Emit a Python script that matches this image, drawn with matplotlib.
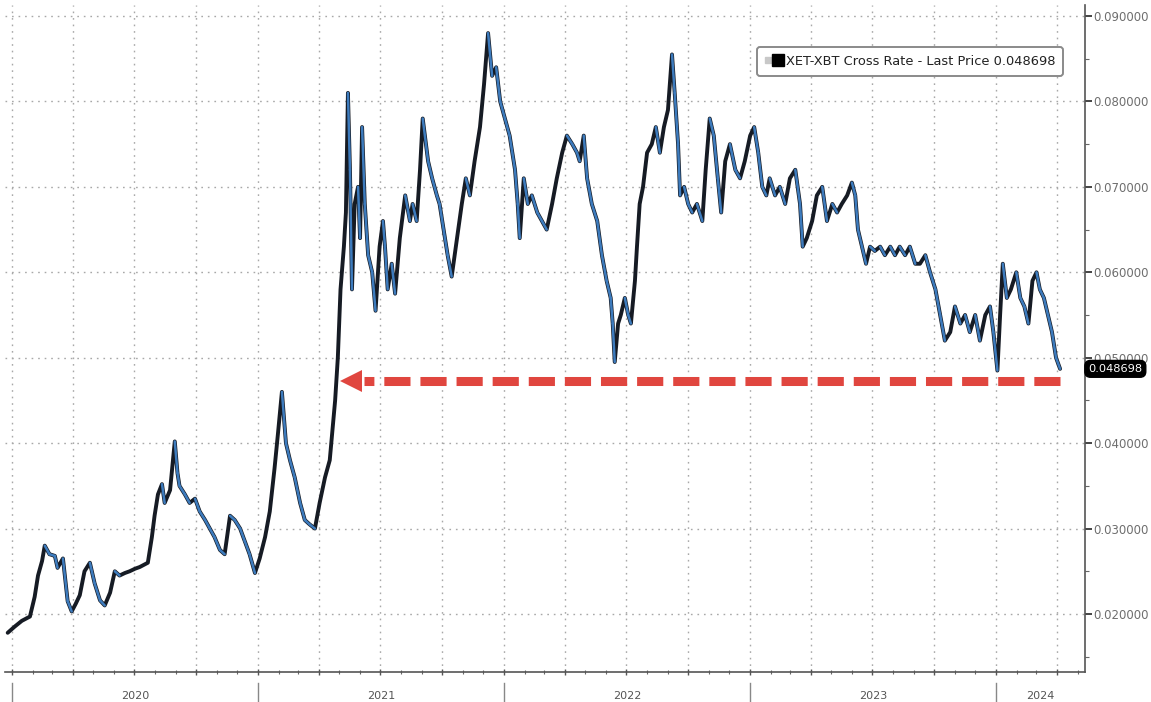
import matplotlib
matplotlib.use("Agg")
import matplotlib.pyplot as plt
import matplotlib.dates as mdates
import matplotlib.ticker as mticker
from matplotlib.collections import LineCollection
from matplotlib.lines import Line2D
from matplotlib.legend_handler import HandlerTuple
from matplotlib.transforms import blended_transform_factory
import numpy as np
import pandas as pd

# XET-XBT cross rate (ETH priced in BTC)
dates = [
    "2019-12-26", "2020-01-05", "2020-01-16", "2020-01-28", "2020-02-04", "2020-02-09",
    "2020-02-15", "2020-02-19", "2020-02-26", "2020-03-05", "2020-03-09", "2020-03-17",
    "2020-03-24", "2020-03-30", "2020-04-05", "2020-04-11", "2020-04-18", "2020-04-26",
    "2020-05-03", "2020-05-11", "2020-05-18", "2020-05-26", "2020-06-02", "2020-06-09",
    "2020-06-17", "2020-06-24", "2020-07-02", "2020-07-09", "2020-07-16", "2020-07-21",
    "2020-07-27", "2020-07-31", "2020-08-05", "2020-08-11", "2020-08-15", "2020-08-23",
    "2020-08-30", "2020-09-03", "2020-09-06", "2020-09-14", "2020-09-21", "2020-09-29",
    "2020-10-06", "2020-10-14", "2020-10-21", "2020-10-28", "2020-11-05", "2020-11-12",
    "2020-11-20", "2020-11-27", "2020-12-05", "2020-12-12", "2020-12-19", "2020-12-27",
    "2021-01-03", "2021-01-11", "2021-01-18", "2021-01-25", "2021-01-30", "2021-02-05",
    "2021-02-11", "2021-02-17", "2021-02-24", "2021-03-04", "2021-03-11", "2021-03-18",
    "2021-03-26", "2021-04-02", "2021-04-10", "2021-04-17", "2021-04-25", "2021-04-29",
    "2021-05-03", "2021-05-08", "2021-05-11", "2021-05-14", "2021-05-17", "2021-05-20",
    "2021-05-24", "2021-05-29", "2021-06-01", "2021-06-04", "2021-06-08", "2021-06-13",
    "2021-06-19", "2021-06-24", "2021-06-30", "2021-07-05", "2021-07-08", "2021-07-12",
    "2021-07-18", "2021-07-23", "2021-07-30", "2021-08-07", "2021-08-14", "2021-08-18",
    "2021-08-24", "2021-08-29", "2021-09-02", "2021-09-10", "2021-09-16", "2021-09-23",
    "2021-09-27", "2021-10-05", "2021-10-09", "2021-10-15", "2021-10-23", "2021-10-30",
    "2021-11-05", "2021-11-11", "2021-11-18", "2021-11-26", "2021-12-02", "2021-12-08",
    "2021-12-14", "2021-12-20", "2021-12-26", "2022-01-02", "2022-01-09", "2022-01-17",
    "2022-01-21", "2022-01-24", "2022-01-30", "2022-02-05", "2022-02-11", "2022-02-19",
    "2022-02-26", "2022-03-05", "2022-03-13", "2022-03-20", "2022-03-28", "2022-04-04",
    "2022-04-12", "2022-04-19", "2022-04-23", "2022-04-29", "2022-05-04", "2022-05-11",
    "2022-05-19", "2022-05-26", "2022-06-02", "2022-06-08", "2022-06-11", "2022-06-14",
    "2022-06-19", "2022-06-23", "2022-06-29", "2022-07-04", "2022-07-08", "2022-07-14",
    "2022-07-17", "2022-07-21", "2022-07-26", "2022-08-01", "2022-08-08", "2022-08-14",
    "2022-08-20", "2022-08-26", "2022-09-01", "2022-09-07", "2022-09-11", "2022-09-16",
    "2022-09-19", "2022-09-25", "2022-10-01", "2022-10-07", "2022-10-14", "2022-10-22",
    "2022-10-27", "2022-11-02", "2022-11-08", "2022-11-14", "2022-11-19", "2022-11-25",
    "2022-12-02", "2022-12-10", "2022-12-17", "2022-12-24", "2023-01-01", "2023-01-07",
    "2023-01-13", "2023-01-19", "2023-01-25", "2023-01-30", "2023-02-07", "2023-02-14",
    "2023-02-22", "2023-03-01", "2023-03-09", "2023-03-16", "2023-03-20", "2023-03-26",
    "2023-04-03", "2023-04-10", "2023-04-18", "2023-04-25", "2023-05-03", "2023-05-10",
    "2023-05-17", "2023-05-25", "2023-06-01", "2023-06-06", "2023-06-10", "2023-06-16",
    "2023-06-22", "2023-06-28", "2023-07-05", "2023-07-13", "2023-07-20", "2023-07-28",
    "2023-08-04", "2023-08-11", "2023-08-19", "2023-08-26", "2023-09-03", "2023-09-10",
    "2023-09-18", "2023-09-25", "2023-10-03", "2023-10-10", "2023-10-17", "2023-10-25",
    "2023-11-01", "2023-11-09", "2023-11-16", "2023-11-23", "2023-12-01", "2023-12-08",
    "2023-12-16", "2023-12-23", "2023-12-28", "2024-01-03", "2024-01-07", "2024-01-11",
    "2024-01-17", "2024-01-23", "2024-01-31", "2024-02-06", "2024-02-12", "2024-02-18",
    "2024-02-24", "2024-03-01", "2024-03-06", "2024-03-12", "2024-03-18", "2024-03-24",
    "2024-03-30", "2024-04-05",
]
prices = [
    0.0178, 0.0185, 0.0192, 0.0197, 0.0220, 0.0245,
    0.0262, 0.0280, 0.0270, 0.0268, 0.0254, 0.0265,
    0.0215, 0.0203, 0.0212, 0.0222, 0.0250, 0.0260,
    0.0236, 0.0216, 0.0210, 0.0225, 0.0250, 0.0245,
    0.0248, 0.0250, 0.0253, 0.0255, 0.0258, 0.0260,
    0.0290, 0.0315, 0.0340, 0.0352, 0.0330, 0.0345,
    0.0402, 0.0365, 0.0350, 0.0340, 0.0330, 0.0335,
    0.0320, 0.0310, 0.0300, 0.0290, 0.0275, 0.0270,
    0.0315, 0.0310, 0.0300, 0.0285, 0.0270, 0.0248,
    0.0265, 0.0290, 0.0320, 0.0370, 0.0410, 0.0460,
    0.0400, 0.0380, 0.0360, 0.0330, 0.0310, 0.0305,
    0.0300, 0.0330, 0.0360, 0.0380, 0.0450, 0.0500,
    0.0580, 0.0630, 0.0670, 0.0810, 0.0720, 0.0580,
    0.0680, 0.0700, 0.0640, 0.0770, 0.0680, 0.0620,
    0.0600, 0.0555, 0.0630, 0.0660, 0.0630, 0.0580,
    0.0610, 0.0575, 0.0640, 0.0690, 0.0660, 0.0680,
    0.0660, 0.0720, 0.0780, 0.0730, 0.0710, 0.0690,
    0.0680, 0.0640, 0.0620, 0.0595, 0.0640, 0.0680,
    0.0710, 0.0690, 0.0730, 0.0770, 0.0820, 0.0880,
    0.0830, 0.0840, 0.0800, 0.0780, 0.0760, 0.0720,
    0.0680, 0.0640, 0.0710, 0.0680, 0.0690, 0.0670,
    0.0660, 0.0650, 0.0680, 0.0710, 0.0740, 0.0760,
    0.0750, 0.0740, 0.0730, 0.0760, 0.0710, 0.0680,
    0.0660, 0.0620, 0.0590, 0.0570, 0.0540, 0.0495,
    0.0540, 0.0550, 0.0570, 0.0550, 0.0540, 0.0590,
    0.0630, 0.0680, 0.0700, 0.0740, 0.0750, 0.0770,
    0.0740, 0.0770, 0.0790, 0.0855, 0.0810, 0.0750,
    0.0690, 0.0700, 0.0680, 0.0670, 0.0680, 0.0660,
    0.0720, 0.0780, 0.0760, 0.0710, 0.0670, 0.0730,
    0.0750, 0.0720, 0.0710, 0.0730, 0.0760, 0.0770,
    0.0740, 0.0700, 0.0690, 0.0710, 0.0690, 0.0700,
    0.0680, 0.0710, 0.0720, 0.0680, 0.0630, 0.0640,
    0.0660, 0.0690, 0.0700, 0.0660, 0.0680, 0.0670,
    0.0680, 0.0690, 0.0705, 0.0690, 0.0650, 0.0630,
    0.0610, 0.0630, 0.0625, 0.0630, 0.0620, 0.0630,
    0.0620, 0.0630, 0.0620, 0.0630, 0.0610, 0.0610,
    0.0620, 0.0600, 0.0580, 0.0550, 0.0520, 0.0530,
    0.0560, 0.0540, 0.0550, 0.0530, 0.0550, 0.0520,
    0.0550, 0.0560, 0.0530, 0.0485, 0.0550, 0.0610,
    0.0570, 0.0580, 0.0600, 0.0570, 0.0560, 0.0540,
    0.0590, 0.0600, 0.0580, 0.0570, 0.0550, 0.0530,
    0.0500, 0.048698,
]

last_price = 0.048698
arrow_level = 0.0473
arrow_from = "2024-04-05"
arrow_to = "2021-05-10"
years = [2020, 2021, 2022, 2023, 2024]
y_ticks = [0.02, 0.03, 0.04, 0.05, 0.06, 0.07, 0.08, 0.09]
legend_label = "XET-XBT Cross Rate - Last Price 0.048698"

x = pd.to_datetime(dates)
y = np.array(prices)

W, H = 1151, 702
fig = plt.figure(figsize=(W / 100, H / 100), dpi=100)
fig.patch.set_facecolor("white")
ax = fig.add_axes([5 / W, (H - 672) / H, 1080 / W, 667 / H])
ax.set_facecolor("white")

x_lo, x_hi = pd.Timestamp("2019-12-22"), pd.Timestamp("2024-05-12")
ax.set_xlim(x_lo, x_hi)
ax.set_ylim(0.01321, 0.09129)

# price line: dark base, falling legs overlaid in blue
xn = mdates.date2num(x)
pts = np.column_stack([xn, y])
segs = np.stack([pts[:-1], pts[1:]], axis=1)
ax.plot(x, y, color="#161b24", lw=2.8, solid_joinstyle="round",
        solid_capstyle="round", zorder=3)
down = np.diff(y) < 0
lc = LineCollection(segs[down], colors="#3d7bbd", linewidths=1.8,
                    capstyle="round", joinstyle="round", zorder=3.5)
ax.add_collection(lc)

# grid
ax.grid(which="major", axis="both", color="#a8a8a8", linestyle=(0, (1.2, 3.5)),
        linewidth=1.0, zorder=0)

# x axis: quarterly major ticks (gridlines), monthly minor ticks
ax.xaxis.set_major_locator(mdates.MonthLocator(bymonth=[1, 4, 7, 10]))
ax.xaxis.set_minor_locator(mdates.MonthLocator())
ax.xaxis.set_major_formatter(mticker.NullFormatter())
ax.xaxis.set_minor_formatter(mticker.NullFormatter())
ax.tick_params(axis="x", which="major", direction="inout", length=5, width=1,
               color="#555555")
ax.tick_params(axis="x", which="minor", direction="inout", length=3, width=0.8,
               color="#666666")

# y axis on the right
ax.yaxis.tick_right()
ax.set_yticks(y_ticks)
ax.yaxis.set_minor_locator(mticker.MultipleLocator(0.005))
ax.yaxis.set_major_formatter(mticker.FormatStrFormatter("%.6f"))
ax.tick_params(axis="y", which="major", direction="out", length=5, width=1.4,
               color="#444444", labelsize=8.5, labelcolor="#6e6e6e", pad=1)
ax.tick_params(axis="y", which="minor", direction="out", length=3, width=0.8,
               color="#666666")

for side in ("left", "top"):
    ax.spines[side].set_visible(False)
for side in ("right", "bottom"):
    ax.spines[side].set_color("#555555")
    ax.spines[side].set_linewidth(1.2)

# year labels centred on the visible part of each year, with separators
trans = blended_transform_factory(ax.transData, ax.transAxes)
for yr in years:
    start = max(pd.Timestamp(f"{yr}-01-01"), x_lo)
    end = min(pd.Timestamp(f"{yr + 1}-01-01"), x_hi)
    mid = start + (end - start) / 2
    ax.text(mid, -0.036, str(yr), transform=trans, ha="center", va="center",
            fontsize=8, color="#555555")
    sep = pd.Timestamp(f"{yr}-01-01")
    if x_lo <= sep <= x_hi:
        ax.plot([sep, sep], [-0.017, -0.045], transform=trans, color="#888888",
                lw=1.0, clip_on=False)

# red dashed arrow marking the current level
arrow_tip = pd.Timestamp(arrow_to)
ax.plot([pd.Timestamp(arrow_from), arrow_tip + pd.Timedelta(days=28)],
        [arrow_level, arrow_level], color="#e0463f", lw=6.5,
        dashes=(2.9, 1.1), solid_capstyle="butt", zorder=4)
ax.plot([arrow_tip + pd.Timedelta(days=8)], [arrow_level], marker="<",
        markersize=16, color="#e0463f", markeredgewidth=0, linestyle="none",
        zorder=4)

# last-price tag on the right axis
ax.text(1.003, last_price, f"{last_price:.6f}", transform=ax.get_yaxis_transform(),
        ha="left", va="center", fontsize=8.2, color="white", zorder=5,
        clip_on=False,
        bbox=dict(boxstyle="round,pad=0.3,rounding_size=0.5", fc="black",
                  ec="black"))

# legend
h_gray = Line2D([], [], marker="s", linestyle="none", markersize=4,
                markerfacecolor="#c8c8c8", markeredgecolor="#c8c8c8")
h_black = Line2D([], [], marker="s", linestyle="none", markersize=8,
                 markerfacecolor="black", markeredgecolor="black")
leg = ax.legend([(h_gray, h_black)], [legend_label],
                handler_map={tuple: HandlerTuple(ndivide=None, pad=0.2)},
                loc="upper right", bbox_to_anchor=(0.9796, 0.937),
                borderaxespad=0, fontsize=9.4, frameon=True, fancybox=True,
                handlelength=1.3, handletextpad=0.3, borderpad=0.6,
                labelcolor="#222222")
leg.get_frame().set_edgecolor("#8a8a8a")
leg.get_frame().set_linewidth(1.4)
leg.get_frame().set_facecolor("white")
leg.get_frame().set_alpha(1)

fig.savefig("out.png", dpi=100, facecolor="white")
